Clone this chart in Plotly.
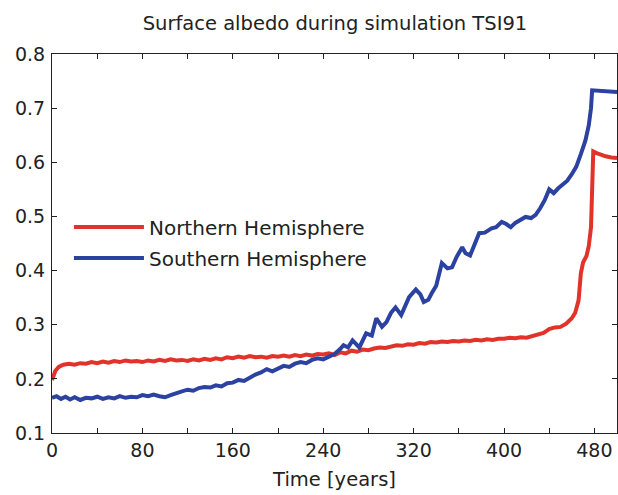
import plotly.graph_objects as go

nh_years = [0, 3, 6, 10, 15, 20, 25, 30, 35, 40, 45, 50, 55, 60, 65, 70, 75, 80, 85, 90, 95, 100,
            105, 110, 115, 120, 125, 130, 135, 140, 145, 150, 155, 160, 165, 170, 175, 180, 185, 190,
            195, 200, 205, 210, 215, 220, 225, 230, 235, 240, 245, 250, 255, 260, 265, 270, 275, 280,
            285, 290, 295, 300, 305, 310, 315, 320, 325, 330, 335, 340, 345, 350, 355, 360, 365, 370,
            375, 380, 385, 390, 395, 400, 405, 410, 415, 420, 425, 430, 435, 440, 445, 450, 455, 460,
            463, 466, 468, 470, 473, 475, 477, 478, 479, 482, 485, 490, 495, 500]
nh_albedo = [0.198, 0.215, 0.222, 0.226, 0.228, 0.226, 0.229, 0.228, 0.231, 0.229, 0.232, 0.230,
             0.233, 0.231, 0.234, 0.232, 0.233, 0.231, 0.234, 0.232, 0.235, 0.233, 0.236, 0.234,
             0.235, 0.233, 0.236, 0.234, 0.237, 0.235, 0.238, 0.236, 0.240, 0.238, 0.241, 0.239,
             0.242, 0.240, 0.241, 0.239, 0.242, 0.241, 0.243, 0.241, 0.244, 0.242, 0.245, 0.243,
             0.246, 0.245, 0.247, 0.244, 0.249, 0.247, 0.252, 0.250, 0.254, 0.253, 0.256, 0.258,
             0.257, 0.260, 0.262, 0.261, 0.264, 0.263, 0.266, 0.265, 0.268, 0.267, 0.269, 0.268,
             0.270, 0.269, 0.271, 0.270, 0.272, 0.271, 0.273, 0.272, 0.274, 0.274, 0.276, 0.275,
             0.277, 0.276, 0.279, 0.281, 0.285, 0.292, 0.295, 0.296, 0.302, 0.312, 0.322, 0.345,
             0.395, 0.415, 0.427, 0.445, 0.480, 0.550, 0.620, 0.617, 0.614, 0.611, 0.609, 0.608]

sh_years = [0, 4, 8, 12, 16, 20, 25, 30, 35, 40, 45, 50, 55, 60, 65, 70, 75, 80, 85, 90, 95, 100,
            105, 110, 115, 120, 125, 130, 135, 140, 145, 150, 155, 160, 165, 170, 175, 180, 185, 190,
            195, 200, 205, 210, 215, 220, 225, 230, 235, 240, 245, 250, 255, 258, 262, 266, 272, 278,
            283, 287, 292, 296, 300, 304, 309, 313, 316, 322, 326, 329, 333, 336, 340, 345, 350, 354,
            358, 363, 366, 370, 374, 378, 383, 389, 393, 398, 402, 406, 410, 415, 419, 424, 428, 432,
            436, 440, 444, 448, 452, 456, 460, 464, 468, 472, 475, 477, 478, 485, 490, 500]
sh_albedo = [0.165, 0.168, 0.163, 0.167, 0.162, 0.166, 0.161, 0.165, 0.164, 0.167, 0.163, 0.166,
             0.164, 0.168, 0.165, 0.167, 0.166, 0.170, 0.168, 0.171, 0.168, 0.166, 0.170, 0.174,
             0.177, 0.180, 0.178, 0.183, 0.185, 0.184, 0.188, 0.186, 0.192, 0.193, 0.198, 0.196,
             0.203, 0.208, 0.212, 0.218, 0.214, 0.220, 0.224, 0.222, 0.228, 0.231, 0.229, 0.235,
             0.238, 0.236, 0.242, 0.246, 0.255, 0.262, 0.258, 0.271, 0.258, 0.284, 0.280, 0.312,
             0.296, 0.305, 0.322, 0.332, 0.318, 0.335, 0.351, 0.365, 0.356, 0.342, 0.346, 0.358,
             0.372, 0.414, 0.404, 0.406, 0.425, 0.443, 0.432, 0.428, 0.450, 0.469, 0.470, 0.478,
             0.480, 0.490, 0.486, 0.480, 0.488, 0.495, 0.499, 0.497, 0.503, 0.515, 0.530, 0.550,
             0.543, 0.552, 0.560, 0.566, 0.578, 0.592, 0.615, 0.640, 0.668, 0.700, 0.733, 0.732,
             0.731, 0.730]

x_tickvals = [0, 40, 80, 120, 160, 200, 240, 280, 320, 360, 400, 440, 480]
x_ticktext = ["0", "", "80", "", "160", "", "240", "", "320", "", "400", "", "480"]
y_tickvals = [0.1, 0.2, 0.3, 0.4, 0.5, 0.6, 0.7, 0.8]
y_ticktext = ["0.1", "0.2", "0.3", "0.4", "0.5", "0.6", "0.7", "0.8"]

RED = "#e2332a"
BLUE = "#2c42a0"
FONT = "DejaVu Sans, Liberation Sans, sans-serif"
TXT = "#222222"

fig = go.Figure()
fig.add_trace(go.Scatter(x=nh_years, y=nh_albedo, mode="lines", name="Northern Hemisphere",
                         legendgroup="nh", line=dict(color=RED, width=4)))
fig.add_trace(go.Scatter(x=sh_years, y=sh_albedo, mode="lines", name="Southern Hemisphere",
                         legendgroup="sh", line=dict(color=BLUE, width=4)))

fig.update_layout(
    width=618, height=495,
    margin=dict(l=52, r=1, t=54, b=62),
    paper_bgcolor="white", plot_bgcolor="white",
    font=dict(family=FONT, color=TXT),
    title=dict(text="Surface albedo during simulation TSI91", x=0.542, xanchor="center",
               y=1 - 23 / 495, yanchor="middle", font=dict(size=19.5, color=TXT)),
    showlegend=True,
    legend=dict(x=0.03, y=0.595, xanchor="left", yanchor="top", bgcolor="rgba(0,0,0,0)",
                font=dict(size=20, color=TXT), itemwidth=70, tracegroupgap=2,
                traceorder="grouped"),
)
fig.update_xaxes(range=[0, 500], tickvals=x_tickvals, ticktext=x_ticktext,
                 ticks="inside", ticklen=5, tickcolor=TXT, showline=True, linecolor=TXT,
                 linewidth=1, mirror="ticks", showgrid=False, zeroline=False,
                 tickfont=dict(size=19, color=TXT),
                 title=dict(text="Time [years]", font=dict(size=19.5, color=TXT), standoff=12))
fig.update_yaxes(range=[0.1, 0.8], tickvals=y_tickvals, ticktext=y_ticktext,
                 ticks="inside", ticklen=5, tickcolor=TXT, showline=True, linecolor=TXT,
                 linewidth=1, mirror="ticks", showgrid=False, zeroline=False,
                 ticklabelstandoff=2,
                 tickfont=dict(size=19, color=TXT))

fig.write_html("out.html")
